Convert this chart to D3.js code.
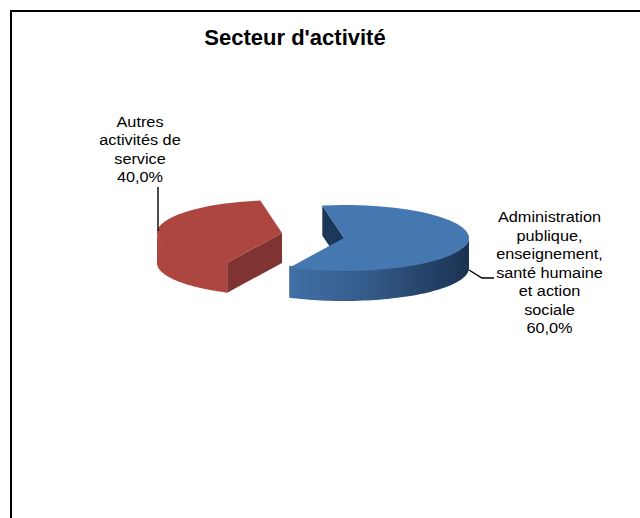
<!DOCTYPE html>
<html>
<head>
<meta charset="utf-8">
<script src="https://cdn.jsdelivr.net/npm/d3@7"></script>
<style>
  html, body { margin: 0; padding: 0; background: #fff; }
  svg { display: block; }
  text { font-family: "Liberation Sans", Arial, sans-serif; fill: #000; }
</style>
</head>
<body>
<div id="chart"></div>
<script>
"use strict";

var categories = ["Administration publique, enseignement, santé humaine et action sociale", "Autres activités de service"];
var values = [60, 40];
var valueLabels = ["60,0%", "40,0%"];
var labelLines = [
  ["Administration", "publique,", "enseignement,", "santé humaine", "et action", "sociale"],
  ["Autres", "activités de", "service"]
];
var chartTitle = "Secteur d'activité";

var width = 640, height = 518;
var rx = 125, ry = 33, depth = 30;
var centers = [[344, 238], [282, 233]];
var labelPos = [[549.5, 222.5], [140, 127]];
var rotation = -10 * Math.PI / 180;

var topColors = ["#4577b0", "#ad4540"];
var cutColors = ["#1d3759", "#803432"];

var svg = d3.select("#chart").append("svg")
  .attr("width", width)
  .attr("height", height);

var defs = svg.append("defs");
var blueGrad = defs.append("linearGradient").attr("id", "wall-0");
blueGrad.append("stop").attr("offset", "0").attr("stop-color", "#416fa6");
blueGrad.append("stop").attr("offset", "0.45").attr("stop-color", "#345a88");
blueGrad.append("stop").attr("offset", "1").attr("stop-color", "#1b3252");
var redGrad = defs.append("linearGradient").attr("id", "wall-1");
redGrad.append("stop").attr("offset", "0").attr("stop-color", "#ad4540");
redGrad.append("stop").attr("offset", "1").attr("stop-color", "#ad4540");

// frame
svg.append("path")
  .attr("d", "M11,519V11H640")
  .attr("fill", "none")
  .attr("stroke", "#000")
  .attr("stroke-width", 2);

svg.append("text")
  .attr("x", 295)
  .attr("y", 45)
  .attr("text-anchor", "middle")
  .attr("font-size", 22)
  .attr("font-weight", "bold")
  .text(chartTitle);

var pie = d3.pie().sort(null)
  .startAngle(rotation)
  .endAngle(rotation + 2 * Math.PI);
var slices = pie(values);

var arc = d3.arc().innerRadius(0).outerRadius(rx);

function px(i, a) { return centers[i][0] + rx * Math.sin(a); }
function py(i, a) { return centers[i][1] - ry * Math.cos(a); }

slices.forEach(function(d, i) {
  var g = svg.append("g");

  // flat wall of the cut which faces the viewer
  g.append("path")
    .attr("d", "M" + centers[i][0] + "," + centers[i][1] +
      "L" + px(i, d.startAngle) + "," + py(i, d.startAngle) +
      "v" + depth +
      "L" + centers[i][0] + "," + (centers[i][1] + depth) + "Z")
    .attr("fill", cutColors[i]);

  // outer wall, only the front half shows; runs 2px under the top face to hide the seam
  var from = Math.max(d.startAngle, Math.PI / 2);
  var to = Math.min(d.endAngle, 3 * Math.PI / 2);
  var angles = d3.range(0, 61).map(function(k) { return from + (to - from) * k / 60; });
  var wall = d3.area()
    .x(function(a) { return px(i, a); })
    .y0(function(a) { return py(i, a) - 2 * Math.max(0, -Math.cos(a)); })
    .y1(function(a) { return py(i, a) + depth; });
  g.append("path")
    .attr("d", wall(angles))
    .attr("fill", "url(#wall-" + i + ")");

  // top face
  g.append("path")
    .attr("transform", "translate(" + centers[i][0] + "," + centers[i][1] + ") scale(1," + (ry / rx) + ")")
    .attr("d", arc(d))
    .attr("fill", topColors[i]);

  // the reference text is stretched sideways
  var t = svg.append("text")
    .attr("text-anchor", "middle")
    .attr("transform", "translate(" + labelPos[i][0] + ",0) scale(1.11,1)")
    .attr("font-size", 14.67)
    .attr("fill", "#111");
  labelLines[i].concat([valueLabels[i]]).forEach(function(line, k) {
    t.append("tspan")
      .attr("x", 0)
      .attr("y", labelPos[i][1] + k * 18.5)
      .text(line);
  });
});

// leader lines
var leaders = [
  [[469, 270], [482, 278], [494, 278]],
  [[158, 231], [158, 187]]
];
var leaderLine = d3.line();
leaders.forEach(function(pts) {
  svg.append("path")
    .attr("d", leaderLine(pts))
    .attr("fill", "none")
    .attr("stroke", "#000")
    .attr("stroke-width", 1.4);
});
</script>
</body>
</html>
